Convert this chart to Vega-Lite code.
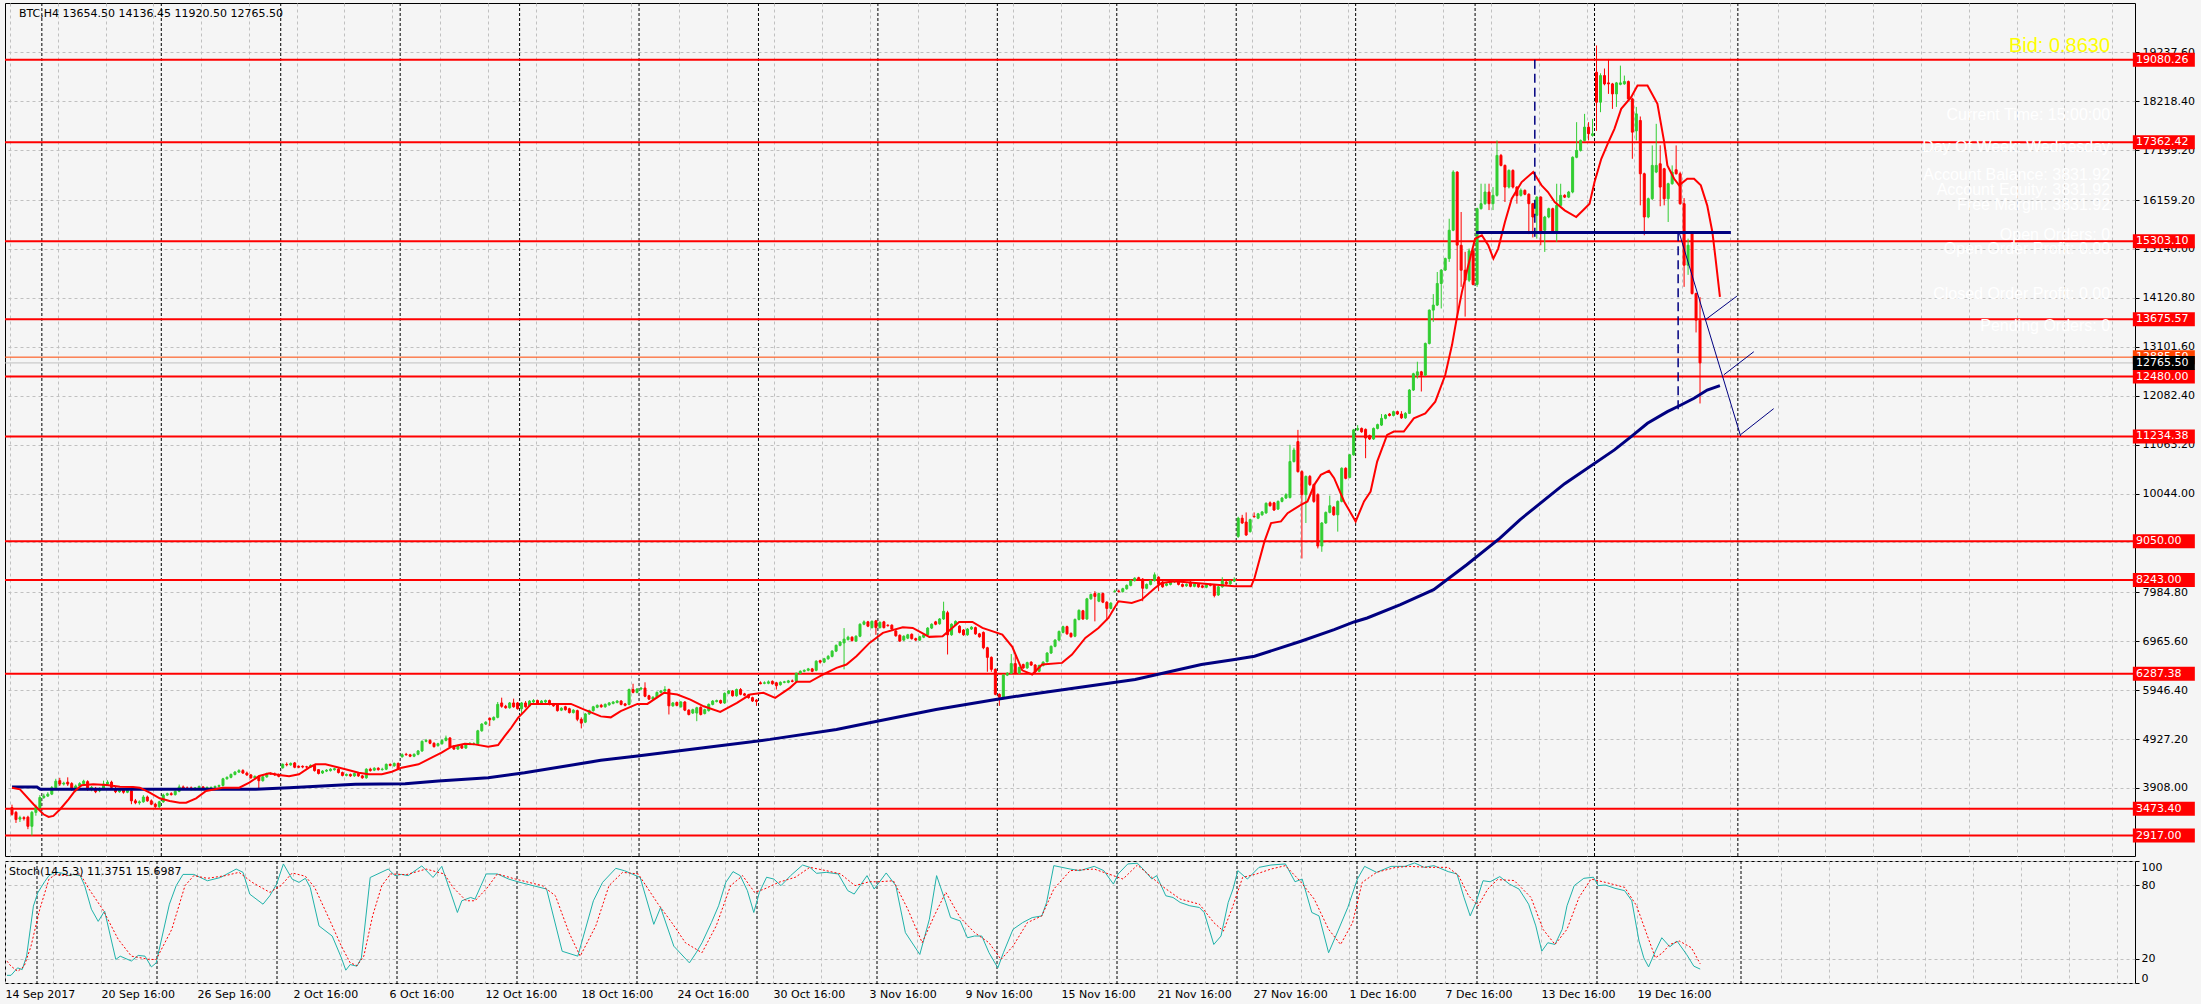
{
"$schema": "https://vega.github.io/schema/vega-lite/v6.json",
"background": "#F5F5F5",
"padding": {"left": 3, "top": 2, "right": 12, "bottom": 16},
"spacing": 3,
"config": {
 "view": {"stroke": "#000000", "strokeWidth": 1},
 "axis": {"labelFont": "DejaVu Sans", "labelFontSize": 11, "labelColor": "#000000", "gridColor": "#C0C0C0", "gridDash": [3, 3], "gridWidth": 1, "tickColor": "#000000", "domain": false},
 "text": {"font": "DejaVu Sans"}
},
"datasets": {
 "candles": [
{"i":0,"o":3499,"h":3560,"l":3330,"c":3360},{"i":1,"o":3400,"h":3430,"l":3180,"c":3250},{"i":2,"o":3260,"h":3330,"l":3200,"c":3290},{"i":3,"o":3290,"h":3320,"l":3230,"c":3270},{"i":4,"o":3300,"h":3330,"l":3050,"c":3110},{"i":5,"o":3110,"h":3430,"l":2917,"c":3400},{"i":6,"o":3400,"h":3560,"l":3330,"c":3500},{"i":7,"o":3500,"h":3760,"l":3480,"c":3710},{"i":8,"o":3710,"h":3790,"l":3680,"c":3740},{"i":9,"o":3740,"h":3820,"l":3720,"c":3780},
{"i":10,"o":3780,"h":3950,"l":3760,"c":3915},{"i":11,"o":3915,"h":4100,"l":3900,"c":4050},{"i":12,"o":4060,"h":4120,"l":3950,"c":3990},{"i":13,"o":3990,"h":4040,"l":3960,"c":4010},{"i":14,"o":4030,"h":4130,"l":3950,"c":3990},{"i":15,"o":4000,"h":4030,"l":3850,"c":3880},{"i":16,"o":3880,"h":3980,"l":3820,"c":3950},{"i":17,"o":3950,"h":4030,"l":3930,"c":4000},{"i":18,"o":4000,"h":4080,"l":3980,"c":4050},{"i":19,"o":4040,"h":4070,"l":3850,"c":3880},
{"i":20,"o":3880,"h":3950,"l":3840,"c":3920},{"i":21,"o":3900,"h":3930,"l":3800,"c":3830},{"i":22,"o":3850,"h":3920,"l":3820,"c":3900},{"i":23,"o":3900,"h":4060,"l":3880,"c":3990},{"i":24,"o":3990,"h":4070,"l":3970,"c":4030},{"i":25,"o":4030,"h":4060,"l":3900,"c":3920},{"i":26,"o":3900,"h":3930,"l":3800,"c":3830},{"i":27,"o":3830,"h":3900,"l":3810,"c":3870},{"i":28,"o":3870,"h":3900,"l":3790,"c":3820},{"i":29,"o":3820,"h":3880,"l":3800,"c":3860},
{"i":30,"o":3850,"h":3870,"l":3570,"c":3640},{"i":31,"o":3640,"h":3680,"l":3570,"c":3600},{"i":32,"o":3600,"h":3650,"l":3560,"c":3620},{"i":33,"o":3620,"h":3760,"l":3600,"c":3720},{"i":34,"o":3720,"h":3750,"l":3620,"c":3640},{"i":35,"o":3640,"h":3670,"l":3550,"c":3570},{"i":36,"o":3570,"h":3600,"l":3480,"c":3520},{"i":37,"o":3520,"h":3640,"l":3490,"c":3620},{"i":38,"o":3620,"h":3790,"l":3600,"c":3760},{"i":39,"o":3760,"h":3810,"l":3740,"c":3790},
{"i":40,"o":3790,"h":3820,"l":3750,"c":3770},{"i":41,"o":3770,"h":3860,"l":3750,"c":3840},{"i":42,"o":3840,"h":3980,"l":3820,"c":3930},{"i":43,"o":3930,"h":3960,"l":3880,"c":3900},{"i":44,"o":3910,"h":3940,"l":3870,"c":3890},{"i":45,"o":3910,"h":3940,"l":3860,"c":3880},{"i":46,"o":3880,"h":3930,"l":3860,"c":3910},{"i":47,"o":3910,"h":3960,"l":3890,"c":3940},{"i":48,"o":3930,"h":3950,"l":3870,"c":3890},{"i":49,"o":3890,"h":3940,"l":3870,"c":3920},
{"i":50,"o":3910,"h":3940,"l":3890,"c":3920},{"i":51,"o":3920,"h":3960,"l":3900,"c":3940},{"i":52,"o":3940,"h":3980,"l":3920,"c":3960},{"i":53,"o":3960,"h":4120,"l":3940,"c":4100},{"i":54,"o":4100,"h":4150,"l":4080,"c":4130},{"i":55,"o":4130,"h":4210,"l":4110,"c":4190},{"i":56,"o":4190,"h":4260,"l":4170,"c":4240},{"i":57,"o":4240,"h":4300,"l":4220,"c":4270},{"i":58,"o":4270,"h":4300,"l":4200,"c":4220},{"i":59,"o":4220,"h":4250,"l":4160,"c":4180},
{"i":60,"o":4180,"h":4200,"l":4100,"c":4120},{"i":61,"o":4120,"h":4170,"l":4100,"c":4150},{"i":62,"o":4150,"h":4170,"l":3900,"c":4060},{"i":63,"o":4060,"h":4160,"l":4040,"c":4140},{"i":64,"o":4140,"h":4230,"l":4120,"c":4210},{"i":65,"o":4210,"h":4240,"l":4180,"c":4200},{"i":66,"o":4200,"h":4230,"l":4160,"c":4180},{"i":67,"o":4190,"h":4210,"l":4130,"c":4150},{"i":68,"o":4330,"h":4420,"l":4310,"c":4400},{"i":69,"o":4400,"h":4440,"l":4360,"c":4390},
{"i":70,"o":4390,"h":4440,"l":4370,"c":4420},{"i":71,"o":4430,"h":4450,"l":4320,"c":4340},{"i":72,"o":4360,"h":4380,"l":4320,"c":4340},{"i":73,"o":4360,"h":4380,"l":4320,"c":4345},{"i":74,"o":4350,"h":4370,"l":4320,"c":4345},{"i":75,"o":4345,"h":4400,"l":4330,"c":4380},{"i":76,"o":4380,"h":4400,"l":4250,"c":4270},{"i":77,"o":4290,"h":4300,"l":4190,"c":4210},{"i":78,"o":4220,"h":4280,"l":4200,"c":4260},{"i":79,"o":4260,"h":4300,"l":4240,"c":4280},
{"i":80,"o":4270,"h":4320,"l":4250,"c":4300},{"i":81,"o":4290,"h":4330,"l":4270,"c":4310},{"i":82,"o":4300,"h":4320,"l":4210,"c":4230},{"i":83,"o":4230,"h":4250,"l":4150,"c":4170},{"i":84,"o":4170,"h":4210,"l":4150,"c":4190},{"i":85,"o":4190,"h":4210,"l":4140,"c":4160},{"i":86,"o":4160,"h":4230,"l":4140,"c":4210},{"i":87,"o":4210,"h":4230,"l":4140,"c":4160},{"i":88,"o":4160,"h":4180,"l":4100,"c":4120},{"i":89,"o":4120,"h":4320,"l":4100,"c":4300},
{"i":90,"o":4300,"h":4330,"l":4250,"c":4270},{"i":91,"o":4280,"h":4340,"l":4260,"c":4320},{"i":92,"o":4320,"h":4340,"l":4270,"c":4290},{"i":93,"o":4290,"h":4330,"l":4270,"c":4300},{"i":94,"o":4300,"h":4420,"l":4280,"c":4400},{"i":95,"o":4400,"h":4420,"l":4360,"c":4380},{"i":96,"o":4370,"h":4440,"l":4350,"c":4420},{"i":97,"o":4420,"h":4440,"l":4280,"c":4300},{"i":98,"o":4560,"h":4630,"l":4540,"c":4600},{"i":99,"o":4610,"h":4640,"l":4580,"c":4600},
{"i":100,"o":4600,"h":4620,"l":4550,"c":4570},{"i":101,"o":4570,"h":4630,"l":4550,"c":4610},{"i":102,"o":4610,"h":4700,"l":4590,"c":4680},{"i":103,"o":4680,"h":4900,"l":4660,"c":4880},{"i":104,"o":4880,"h":4930,"l":4860,"c":4900},{"i":105,"o":4900,"h":4920,"l":4820,"c":4840},{"i":106,"o":4840,"h":4860,"l":4750,"c":4770},{"i":107,"o":4790,"h":4850,"l":4770,"c":4830},{"i":108,"o":4830,"h":4920,"l":4810,"c":4900},{"i":109,"o":4900,"h":5000,"l":4880,"c":4950},
{"i":110,"o":4950,"h":4970,"l":4740,"c":4760},{"i":111,"o":4780,"h":4800,"l":4700,"c":4720},{"i":112,"o":4720,"h":4810,"l":4700,"c":4790},{"i":113,"o":4790,"h":4810,"l":4720,"c":4740},{"i":114,"o":4740,"h":4840,"l":4720,"c":4820},{"i":115,"o":4820,"h":4860,"l":4800,"c":4840},{"i":116,"o":4830,"h":4860,"l":4800,"c":4830},{"i":117,"o":4830,"h":5120,"l":4810,"c":5100},{"i":118,"o":5100,"h":5260,"l":5080,"c":5240},{"i":119,"o":5240,"h":5300,"l":5220,"c":5280},
{"i":120,"o":5360,"h":5380,"l":5200,"c":5330},{"i":121,"o":5330,"h":5400,"l":5310,"c":5380},{"i":122,"o":5380,"h":5700,"l":5360,"c":5650},{"i":123,"o":5680,"h":5790,"l":5580,"c":5610},{"i":124,"o":5610,"h":5640,"l":5560,"c":5580},{"i":125,"o":5580,"h":5700,"l":5560,"c":5680},{"i":126,"o":5680,"h":5770,"l":5580,"c":5600},{"i":127,"o":5680,"h":5700,"l":5540,"c":5560},{"i":128,"o":5560,"h":5700,"l":5450,"c":5680},{"i":129,"o":5680,"h":5720,"l":5580,"c":5600},
{"i":130,"o":5620,"h":5740,"l":5600,"c":5720},{"i":131,"o":5700,"h":5760,"l":5680,"c":5730},{"i":132,"o":5730,"h":5750,"l":5660,"c":5680},{"i":133,"o":5680,"h":5740,"l":5660,"c":5720},{"i":134,"o":5700,"h":5750,"l":5680,"c":5730},{"i":135,"o":5730,"h":5750,"l":5630,"c":5650},{"i":136,"o":5650,"h":5680,"l":5600,"c":5620},{"i":137,"o":5640,"h":5660,"l":5500,"c":5520},{"i":138,"o":5530,"h":5590,"l":5510,"c":5570},{"i":139,"o":5600,"h":5620,"l":5520,"c":5540},
{"i":140,"o":5560,"h":5580,"l":5460,"c":5480},{"i":141,"o":5480,"h":5550,"l":5460,"c":5530},{"i":142,"o":5520,"h":5540,"l":5300,"c":5340},{"i":143,"o":5340,"h":5380,"l":5150,"c":5260},{"i":144,"o":5280,"h":5470,"l":5260,"c":5450},{"i":145,"o":5450,"h":5540,"l":5430,"c":5520},{"i":146,"o":5520,"h":5620,"l":5500,"c":5600},{"i":147,"o":5590,"h":5650,"l":5570,"c":5630},{"i":148,"o":5630,"h":5660,"l":5580,"c":5600},{"i":149,"o":5600,"h":5670,"l":5580,"c":5650},
{"i":150,"o":5640,"h":5700,"l":5620,"c":5680},{"i":151,"o":5670,"h":5720,"l":5650,"c":5700},{"i":152,"o":5690,"h":5740,"l":5670,"c":5720},{"i":153,"o":5720,"h":5740,"l":5630,"c":5650},{"i":154,"o":5660,"h":5680,"l":5610,"c":5630},{"i":155,"o":5650,"h":5980,"l":5630,"c":5960},{"i":156,"o":5960,"h":6080,"l":5880,"c":5900},{"i":157,"o":5900,"h":5990,"l":5880,"c":5970},{"i":158,"o":5970,"h":6010,"l":5950,"c":5990},{"i":159,"o":5990,"h":6110,"l":5800,"c":5820},
{"i":160,"o":5830,"h":5850,"l":5740,"c":5760},{"i":161,"o":5760,"h":5820,"l":5740,"c":5800},{"i":162,"o":5800,"h":5920,"l":5780,"c":5900},{"i":163,"o":5900,"h":5950,"l":5880,"c":5930},{"i":164,"o":5930,"h":6030,"l":5910,"c":5960},{"i":165,"o":5960,"h":5980,"l":5440,"c":5620},{"i":166,"o":5620,"h":5700,"l":5600,"c":5680},{"i":167,"o":5690,"h":5710,"l":5610,"c":5630},{"i":168,"o":5600,"h":5720,"l":5580,"c":5700},{"i":169,"o":5700,"h":5720,"l":5510,"c":5530},
{"i":170,"o":5530,"h":5550,"l":5420,"c":5440},{"i":171,"o":5470,"h":5560,"l":5450,"c":5540},{"i":172,"o":5470,"h":5600,"l":5300,"c":5580},{"i":173,"o":5590,"h":5610,"l":5420,"c":5440},{"i":174,"o":5460,"h":5560,"l":5440,"c":5540},{"i":175,"o":5520,"h":5670,"l":5500,"c":5650},{"i":176,"o":5650,"h":5740,"l":5630,"c":5720},{"i":177,"o":5710,"h":5750,"l":5690,"c":5730},{"i":178,"o":5730,"h":5750,"l":5660,"c":5680},{"i":179,"o":5680,"h":5900,"l":5660,"c":5880},
{"i":180,"o":5880,"h":5950,"l":5860,"c":5930},{"i":181,"o":5930,"h":5950,"l":5810,"c":5830},{"i":182,"o":5830,"h":5980,"l":5810,"c":5960},{"i":183,"o":5960,"h":5990,"l":5840,"c":5860},{"i":184,"o":5870,"h":5890,"l":5820,"c":5840},{"i":185,"o":5850,"h":5870,"l":5770,"c":5790},{"i":186,"o":5790,"h":5810,"l":5700,"c":5720},{"i":187,"o":5740,"h":5760,"l":5620,"c":5710},{"i":188,"o":6100,"h":6130,"l":6070,"c":6080},{"i":189,"o":6090,"h":6130,"l":6070,"c":6100},
{"i":190,"o":6090,"h":6150,"l":6070,"c":6120},{"i":191,"o":6130,"h":6150,"l":6060,"c":6080},{"i":192,"o":6100,"h":6120,"l":5960,"c":6040},{"i":193,"o":6060,"h":6130,"l":6040,"c":6110},{"i":194,"o":6110,"h":6140,"l":6090,"c":6120},{"i":195,"o":6110,"h":6160,"l":6090,"c":6140},{"i":196,"o":6140,"h":6170,"l":6110,"c":6130},{"i":197,"o":6130,"h":6310,"l":6110,"c":6300},{"i":198,"o":6300,"h":6360,"l":6280,"c":6340},{"i":199,"o":6340,"h":6380,"l":6320,"c":6360},
{"i":200,"o":6360,"h":6410,"l":6340,"c":6390},{"i":201,"o":6390,"h":6410,"l":6320,"c":6340},{"i":202,"o":6360,"h":6570,"l":6340,"c":6550},{"i":203,"o":6560,"h":6580,"l":6500,"c":6530},{"i":204,"o":6530,"h":6620,"l":6510,"c":6600},{"i":205,"o":6600,"h":6680,"l":6580,"c":6650},{"i":206,"o":6650,"h":6780,"l":6630,"c":6760},{"i":207,"o":6760,"h":6900,"l":6740,"c":6880},{"i":208,"o":6880,"h":6970,"l":6860,"c":6950},{"i":209,"o":6930,"h":7240,"l":6380,"c":7010},
{"i":210,"o":7000,"h":7080,"l":6980,"c":7050},{"i":211,"o":7050,"h":7070,"l":6960,"c":6980},{"i":212,"o":6970,"h":7090,"l":6950,"c":7070},{"i":213,"o":7070,"h":7340,"l":7050,"c":7320},{"i":214,"o":7320,"h":7400,"l":7300,"c":7370},{"i":215,"o":7370,"h":7390,"l":7260,"c":7280},{"i":216,"o":7250,"h":7400,"l":7230,"c":7380},{"i":217,"o":7390,"h":7410,"l":7100,"c":7250},{"i":218,"o":7250,"h":7380,"l":7230,"c":7360},{"i":219,"o":7370,"h":7390,"l":7230,"c":7250},
{"i":220,"o":7300,"h":7320,"l":7270,"c":7290},{"i":221,"o":7300,"h":7320,"l":7200,"c":7220},{"i":222,"o":7180,"h":7200,"l":7060,"c":7080},{"i":223,"o":7090,"h":7110,"l":6950,"c":6970},{"i":224,"o":6990,"h":7090,"l":6970,"c":7070},{"i":225,"o":7030,"h":7120,"l":7010,"c":7100},{"i":226,"o":7110,"h":7130,"l":7000,"c":7020},{"i":227,"o":7020,"h":7040,"l":6970,"c":6990},{"i":228,"o":6990,"h":7080,"l":6970,"c":7060},{"i":229,"o":7050,"h":7120,"l":7030,"c":7100},
{"i":230,"o":7100,"h":7260,"l":7080,"c":7240},{"i":231,"o":7240,"h":7340,"l":7220,"c":7320},{"i":232,"o":7370,"h":7390,"l":7300,"c":7320},{"i":233,"o":7330,"h":7450,"l":7310,"c":7430},{"i":234,"o":7430,"h":7790,"l":7410,"c":7590},{"i":235,"o":7560,"h":7600,"l":6690,"c":7100},{"i":236,"o":7100,"h":7340,"l":7080,"c":7320},{"i":237,"o":7310,"h":7400,"l":7290,"c":7380},{"i":238,"o":7280,"h":7300,"l":7130,"c":7150},{"i":239,"o":7200,"h":7220,"l":7080,"c":7100},
{"i":240,"o":7100,"h":7240,"l":7080,"c":7220},{"i":241,"o":7220,"h":7280,"l":7200,"c":7260},{"i":242,"o":7250,"h":7270,"l":7100,"c":7120},{"i":243,"o":7120,"h":7140,"l":7040,"c":7060},{"i":244,"o":7150,"h":7170,"l":6800,"c":6830},{"i":245,"o":6830,"h":6850,"l":6330,"c":6630},{"i":246,"o":6630,"h":6650,"l":6330,"c":6380},{"i":247,"o":6380,"h":6400,"l":5840,"c":5860},{"i":248,"o":5860,"h":5880,"l":5620,"c":5800},{"i":249,"o":5800,"h":6280,"l":5780,"c":6260},
{"i":250,"o":6260,"h":6320,"l":6240,"c":6300},{"i":251,"o":6300,"h":6700,"l":6280,"c":6500},{"i":252,"o":6500,"h":6680,"l":6280,"c":6300},{"i":253,"o":6300,"h":6440,"l":6280,"c":6420},{"i":254,"o":6480,"h":6500,"l":6390,"c":6410},{"i":255,"o":6410,"h":6540,"l":6390,"c":6520},{"i":256,"o":6530,"h":6550,"l":6450,"c":6470},{"i":257,"o":6470,"h":6490,"l":6300,"c":6330},{"i":258,"o":6340,"h":6480,"l":6320,"c":6460},{"i":259,"o":6460,"h":6550,"l":6440,"c":6530},
{"i":260,"o":6540,"h":6740,"l":6520,"c":6720},{"i":261,"o":6720,"h":6880,"l":6700,"c":6860},{"i":262,"o":6860,"h":7010,"l":6840,"c":6990},{"i":263,"o":6990,"h":7190,"l":6970,"c":7170},{"i":264,"o":7150,"h":7290,"l":7130,"c":7270},{"i":265,"o":7270,"h":7290,"l":7100,"c":7120},{"i":266,"o":7130,"h":7150,"l":7040,"c":7060},{"i":267,"o":7070,"h":7440,"l":7050,"c":7420},{"i":268,"o":7420,"h":7630,"l":7400,"c":7610},{"i":269,"o":7600,"h":7620,"l":7410,"c":7430},
{"i":270,"o":7430,"h":7870,"l":7410,"c":7850},{"i":271,"o":7850,"h":7960,"l":7830,"c":7940},{"i":272,"o":7960,"h":8010,"l":7380,"c":7900},{"i":273,"o":7800,"h":7980,"l":7780,"c":7960},{"i":274,"o":7960,"h":7980,"l":7760,"c":7780},{"i":275,"o":7780,"h":7800,"l":7400,"c":7650},{"i":276,"o":7650,"h":7780,"l":7630,"c":7760},{"i":277,"o":8000,"h":8040,"l":7980,"c":8010},{"i":278,"o":8010,"h":8040,"l":7980,"c":8000},{"i":279,"o":8000,"h":8080,"l":7980,"c":8060},
{"i":280,"o":8060,"h":8150,"l":8040,"c":8130},{"i":281,"o":8130,"h":8250,"l":8110,"c":8230},{"i":282,"o":8230,"h":8300,"l":8210,"c":8280},{"i":283,"o":8290,"h":8310,"l":8240,"c":8260},{"i":284,"o":8260,"h":8280,"l":7800,"c":8070},{"i":285,"o":8070,"h":8170,"l":8050,"c":8150},{"i":286,"o":8150,"h":8250,"l":8130,"c":8230},{"i":287,"o":8230,"h":8400,"l":8210,"c":8350},{"i":288,"o":8300,"h":8320,"l":8010,"c":8150},{"i":289,"o":8200,"h":8220,"l":8080,"c":8100},
{"i":290,"o":8130,"h":8180,"l":8110,"c":8160},{"i":291,"o":8150,"h":8220,"l":8130,"c":8200},{"i":292,"o":8200,"h":8240,"l":8180,"c":8220},{"i":293,"o":8220,"h":8240,"l":8130,"c":8150},{"i":294,"o":8150,"h":8170,"l":8090,"c":8110},{"i":295,"o":8120,"h":8170,"l":8100,"c":8150},{"i":296,"o":8200,"h":8220,"l":8090,"c":8110},{"i":297,"o":8110,"h":8180,"l":8090,"c":8160},{"i":298,"o":8160,"h":8180,"l":8080,"c":8100},{"i":299,"o":8120,"h":8140,"l":8070,"c":8090},
{"i":300,"o":8090,"h":8170,"l":8070,"c":8150},{"i":301,"o":8150,"h":8170,"l":8110,"c":8130},{"i":302,"o":8130,"h":8150,"l":7880,"c":7920},{"i":303,"o":7930,"h":8120,"l":7910,"c":8100},{"i":304,"o":8100,"h":8300,"l":8080,"c":8220},{"i":305,"o":8200,"h":8220,"l":8140,"c":8160},{"i":306,"o":8160,"h":8240,"l":8140,"c":8220},{"i":307,"o":8220,"h":8300,"l":8200,"c":8250},{"i":308,"o":9150,"h":9560,"l":9120,"c":9530},{"i":309,"o":9530,"h":9600,"l":9410,"c":9430},
{"i":310,"o":9450,"h":9650,"l":9160,"c":9180},{"i":311,"o":9250,"h":9520,"l":9230,"c":9500},{"i":312,"o":9570,"h":9650,"l":9540,"c":9560},{"i":313,"o":9530,"h":9640,"l":9510,"c":9620},{"i":314,"o":9600,"h":9680,"l":9580,"c":9660},{"i":315,"o":9640,"h":9860,"l":9620,"c":9840},{"i":316,"o":9850,"h":9880,"l":9770,"c":9790},{"i":317,"o":9850,"h":9870,"l":9680,"c":9700},{"i":318,"o":9720,"h":9900,"l":9700,"c":9880},{"i":319,"o":9880,"h":9970,"l":9860,"c":9950},
{"i":320,"o":9950,"h":10050,"l":9930,"c":10020},{"i":321,"o":9960,"h":11060,"l":9940,"c":10710},{"i":322,"o":10710,"h":11000,"l":10690,"c":10950},{"i":323,"o":11126,"h":11370,"l":10480,"c":10500},{"i":324,"o":10500,"h":10530,"l":8690,"c":10020},{"i":325,"o":10020,"h":10420,"l":9430,"c":10400},{"i":326,"o":10400,"h":10430,"l":10200,"c":10230},{"i":327,"o":10230,"h":10250,"l":9850,"c":9880},{"i":328,"o":10020,"h":10050,"l":8900,"c":8950},{"i":329,"o":8950,"h":9450,"l":8830,"c":9430},
{"i":330,"o":9430,"h":9670,"l":9410,"c":9650},{"i":331,"o":9650,"h":10000,"l":9630,"c":9790},{"i":332,"o":9760,"h":9780,"l":9580,"c":9600},{"i":333,"o":9600,"h":9900,"l":9250,"c":9880},{"i":334,"o":9880,"h":10590,"l":9860,"c":10570},{"i":335,"o":10570,"h":10590,"l":10340,"c":10360},{"i":336,"o":10380,"h":10870,"l":10360,"c":10850},{"i":337,"o":10850,"h":11390,"l":10830,"c":11370},{"i":338,"o":11370,"h":11470,"l":11350,"c":11400},{"i":339,"o":11400,"h":11420,"l":11310,"c":11330},
{"i":340,"o":11380,"h":11400,"l":10780,"c":11200},{"i":341,"o":11250,"h":11270,"l":11160,"c":11180},{"i":342,"o":11180,"h":11420,"l":11160,"c":11400},{"i":343,"o":11400,"h":11500,"l":11380,"c":11480},{"i":344,"o":11470,"h":11700,"l":11450,"c":11610},{"i":345,"o":11610,"h":11700,"l":11590,"c":11680},{"i":346,"o":11700,"h":11720,"l":11650,"c":11670},{"i":347,"o":11670,"h":11770,"l":11650,"c":11750},{"i":348,"o":11750,"h":11770,"l":11680,"c":11700},{"i":349,"o":11700,"h":11760,"l":11600,"c":11620},
{"i":350,"o":11620,"h":11740,"l":11600,"c":11714},{"i":351,"o":11714,"h":12220,"l":11700,"c":12200},{"i":352,"o":12200,"h":12560,"l":12180,"c":12540},{"i":353,"o":12510,"h":12790,"l":12440,"c":12580},{"i":354,"o":12580,"h":12600,"l":12170,"c":12510},{"i":355,"o":12510,"h":13190,"l":12490,"c":13170},{"i":356,"o":13170,"h":13880,"l":13150,"c":13865},{"i":357,"o":13865,"h":14200,"l":13620,"c":13970},{"i":358,"o":13970,"h":14660,"l":13950,"c":14420},{"i":359,"o":14420,"h":14720,"l":13900,"c":14700},
{"i":360,"o":14700,"h":14960,"l":14680,"c":14940},{"i":361,"o":14940,"h":15770,"l":14870,"c":15530},{"i":362,"o":15530,"h":16780,"l":15510,"c":16742},{"i":363,"o":16742,"h":16760,"l":13700,"c":15220},{"i":364,"o":15217,"h":15910,"l":14350,"c":14697},{"i":365,"o":14697,"h":15080,"l":13730,"c":14489},{"i":366,"o":14489,"h":15150,"l":14450,"c":15100},{"i":367,"o":15100,"h":15150,"l":14380,"c":14400},{"i":368,"o":14400,"h":16000,"l":14350,"c":15980},{"i":369,"o":15980,"h":16500,"l":15960,"c":16083},
{"i":370,"o":16083,"h":16500,"l":16060,"c":16326},{"i":371,"o":16326,"h":16500,"l":15950,"c":16083},{"i":372,"o":16083,"h":16430,"l":15950,"c":16257},{"i":373,"o":16257,"h":17400,"l":16230,"c":17089},{"i":374,"o":17089,"h":17120,"l":16860,"c":16881},{"i":375,"o":16881,"h":16900,"l":16118,"c":16430},{"i":376,"o":16430,"h":16800,"l":16400,"c":16776},{"i":377,"o":16776,"h":16800,"l":16400,"c":16430},{"i":378,"o":16430,"h":16450,"l":16083,"c":16250},{"i":379,"o":16257,"h":16400,"l":16230,"c":16361},
{"i":380,"o":16361,"h":16380,"l":16260,"c":16280},{"i":381,"o":16280,"h":16300,"l":15450,"c":16083},{"i":382,"o":16083,"h":16100,"l":15380,"c":15806},{"i":383,"o":15841,"h":16240,"l":15355,"c":16220},{"i":384,"o":16220,"h":16240,"l":15217,"c":15494},{"i":385,"o":15529,"h":15830,"l":15078,"c":15806},{"i":386,"o":15806,"h":16000,"l":15780,"c":15979},{"i":387,"o":15979,"h":16000,"l":15470,"c":15494},{"i":388,"o":15494,"h":16499,"l":15286,"c":16049},{"i":389,"o":16049,"h":16499,"l":16030,"c":16257},
{"i":390,"o":16257,"h":16280,"l":16200,"c":16220},{"i":391,"o":16220,"h":16350,"l":16200,"c":16326},{"i":392,"o":16326,"h":17070,"l":16300,"c":17050},{"i":393,"o":17050,"h":17782,"l":17030,"c":17193},{"i":394,"o":17193,"h":17420,"l":17170,"c":17401},{"i":395,"o":17401,"h":17955,"l":17380,"c":17678},{"i":396,"o":17678,"h":17782,"l":17401,"c":17540},{"i":397,"o":17505,"h":17850,"l":17480,"c":17540},{"i":398,"o":18822,"h":19380,"l":17600,"c":18198},{"i":399,"o":18198,"h":18800,"l":17990,"c":18753},
{"i":400,"o":18753,"h":18900,"l":18550,"c":18579},{"i":401,"o":18600,"h":19099,"l":18371,"c":18579},{"i":402,"o":18579,"h":18600,"l":18059,"c":18371},{"i":403,"o":18371,"h":18620,"l":18100,"c":18600},{"i":404,"o":18570,"h":18960,"l":18550,"c":18600},{"i":405,"o":18580,"h":18753,"l":18560,"c":18628},{"i":406,"o":18628,"h":18650,"l":18240,"c":18267},{"i":407,"o":18267,"h":18290,"l":17019,"c":17574},{"i":408,"o":17600,"h":18100,"l":17400,"c":17955},{"i":409,"o":17817,"h":17900,"l":16049,"c":16707},
{"i":410,"o":16707,"h":16730,"l":15425,"c":15806},{"i":411,"o":15806,"h":16210,"l":15780,"c":16187},{"i":412,"o":16187,"h":17297,"l":16160,"c":16881},{"i":413,"o":16742,"h":17747,"l":16720,"c":16881},{"i":414,"o":16915,"h":17300,"l":16030,"c":16430},{"i":415,"o":16811,"h":16830,"l":16049,"c":16187},{"i":416,"o":16187,"h":16520,"l":15702,"c":16499},{"i":417,"o":16499,"h":16881,"l":16480,"c":16742},{"i":418,"o":16790,"h":17297,"l":16690,"c":16707},{"i":419,"o":16707,"h":16750,"l":16060,"c":16083},
{"i":420,"o":16083,"h":16200,"l":14350,"c":14801},{"i":421,"o":14801,"h":15355,"l":14600,"c":15217},{"i":422,"o":15460,"h":15494,"l":14190,"c":14211},{"i":423,"o":14211,"h":14230,"l":13400,"c":13657},{"i":424,"o":13654.5,"h":14136.45,"l":11920.5,"c":12765.5}
 ],
 "maFast": [
{"i":0,"p":3915},{"i":2,"p":3880},{"i":5.4,"p":3570},{"i":7.9,"p":3360},{"i":9.2,"p":3305},{"i":10.4,"p":3326},{"i":12.1,"p":3465},{"i":14.2,"p":3672},{"i":15.8,"p":3846},{"i":17.5,"p":3964},{"i":20.4,"p":3985},{"i":23.75,"p":3971},{"i":27.1,"p":3936},{"i":30.4,"p":3929},{"i":32.1,"p":3915},{"i":34.6,"p":3811},{"i":37.1,"p":3693},{"i":39.6,"p":3638},{"i":42.1,"p":3603},{"i":43.75,"p":3603},{"i":46.25,"p":3693},{"i":48.75,"p":3846},{"i":52.9,"p":3915},{"i":57.1,"p":3915},{"i":59.6,"p":4019},{"i":62.1,"p":4158},{"i":64.6,"p":4213},{"i":67.1,"p":4179},{"i":69.6,"p":4151},{"i":72.1,"p":4193},{"i":74.6,"p":4331},{"i":76.25,"p":4401},{"i":78.75,"p":4401},{"i":81.25,"p":4352},{"i":83.75,"p":4297},{"i":87.1,"p":4227},{"i":89.6,"p":4193},{"i":92.9,"p":4193},{"i":95.4,"p":4248},{"i":97.9,"p":4331},{"i":102.1,"p":4401},{"i":105.4,"p":4539},{"i":107.9,"p":4643},{"i":110.4,"p":4768},{"i":113.75,"p":4831},{"i":116.25,"p":4817},{"i":119.6,"p":4768},{"i":122.1,"p":4803},{"i":123.75,"p":4990},{"i":125.4,"p":5163},{"i":127.1,"p":5370},{"i":128.75,"p":5510},{"i":130.4,"p":5660},{"i":135.4,"p":5660},{"i":140.4,"p":5660},{"i":143.75,"p":5540},{"i":147.9,"p":5400},{"i":150.4,"p":5380},{"i":152.9,"p":5510},{"i":157.1,"p":5660},{"i":159.6,"p":5660},{"i":163.75,"p":5890},{"i":167.1,"p":5855},{"i":170.4,"p":5750},{"i":173.75,"p":5610},{"i":177.9,"p":5495},{"i":182.1,"p":5680},{"i":185.4,"p":5855},{"i":188.75,"p":5890},{"i":191.7,"p":5785},{"i":195.4,"p":5995},{"i":197.1,"p":6120},{"i":200.4,"p":6120},{"i":203.75,"p":6273},{"i":207.1,"p":6411},{"i":209.6,"p":6481},{"i":212.1,"p":6654},{"i":215.4,"p":6931},{"i":218.75,"p":7140},{"i":223.75,"p":7258},{"i":226.25,"p":7244},{"i":230.4,"p":7057},{"i":233.75,"p":7071},{"i":237.9,"p":7369},{"i":241.25,"p":7369},{"i":243.75,"p":7244},{"i":248.75,"p":7105},{"i":251.25,"p":6850},{"i":253.75,"p":6360},{"i":256.25,"p":6272},{"i":258.75,"p":6481},{"i":263.75,"p":6515},{"i":266.25,"p":6689},{"i":269.6,"p":7035},{"i":272.9,"p":7243},{"i":275.4,"p":7451},{"i":277.9,"p":7798},{"i":281.25,"p":7763},{"i":283.75,"p":7832},{"i":287.1,"p":8075},{"i":288.75,"p":8179},{"i":292.1,"p":8214},{"i":307.1,"p":8110},{"i":311.25,"p":8110},{"i":312.1,"p":8283},{"i":314.6,"p":9046},{"i":316.25,"p":9427},{"i":318.75,"p":9462},{"i":320.4,"p":9635},{"i":323.75,"p":9808},{"i":325.4,"p":9878},{"i":327.1,"p":10225},{"i":328.75,"p":10433},{"i":330.8,"p":10516},{"i":332.1,"p":10363},{"i":334.6,"p":9878},{"i":337.5,"p":9462},{"i":339.6,"p":9878},{"i":341.25,"p":10086},{"i":342.9,"p":10710},{"i":345.4,"p":11264},{"i":347.1,"p":11334},{"i":349.6,"p":11334},{"i":352.1,"p":11611},{"i":355,"p":11714},{"i":357.5,"p":11957},{"i":360,"p":12513},{"i":361.7,"p":13137},{"i":362.9,"p":13700},{"i":364.2,"p":14246},{"i":365.8,"p":14801},{"i":367.5,"p":15355},{"i":369.2,"p":15425},{"i":370.8,"p":15217},{"i":372.1,"p":14939},{"i":373.3,"p":15147},{"i":375,"p":15702},{"i":376.7,"p":16187},{"i":379.2,"p":16534},{"i":382.1,"p":16742},{"i":384.2,"p":16465},{"i":385.8,"p":16326},{"i":387.5,"p":16118},{"i":390,"p":15944},{"i":392.9,"p":15806},{"i":395,"p":15979},{"i":396.25,"p":16083},{"i":397.5,"p":16534},{"i":399.2,"p":17019},{"i":400.8,"p":17331},{"i":402.5,"p":17643},{"i":404.2,"p":18059},{"i":406.7,"p":18302},{"i":408.3,"p":18545},{"i":410.8,"p":18545},{"i":413.3,"p":18163},{"i":415,"p":17366},{"i":415.8,"p":16881},{"i":417.5,"p":16603},{"i":418.75,"p":16465},{"i":420.8,"p":16603},{"i":422.5,"p":16603},{"i":424.2,"p":16465},{"i":425.8,"p":16049},{"i":427.1,"p":15494},{"i":427.9,"p":14939},{"i":429,"p":14142}
 ],
 "maSlow": [
{"i":0,"p":3929},{"i":6.25,"p":3929},{"i":7.1,"p":3880},{"i":61.25,"p":3880},{"i":69.6,"p":3915},{"i":77.9,"p":3950},{"i":86.25,"p":3985},{"i":98.75,"p":3999},{"i":107.1,"p":4054},{"i":119.6,"p":4123},{"i":128.75,"p":4227},{"i":147.9,"p":4484},{"i":157.1,"p":4574},{"i":173.75,"p":4747},{"i":190.4,"p":4921},{"i":207.1,"p":5129},{"i":215.4,"p":5267},{"i":232.1,"p":5545},{"i":247.1,"p":5753},{"i":253.75,"p":5836},{"i":282.1,"p":6169},{"i":298.75,"p":6481},{"i":307.1,"p":6585},{"i":312.1,"p":6654},{"i":323.75,"p":6966},{"i":332.1,"p":7209},{"i":337.1,"p":7368},{"i":340.4,"p":7451},{"i":348.75,"p":7729},{"i":357.1,"p":8041},{"i":365.4,"p":8561},{"i":373.75,"p":9115},{"i":378.75,"p":9497},{"i":390,"p":10250},{"i":402.5,"p":10953},{"i":406.7,"p":11230},{"i":410.8,"p":11507},{"i":415.8,"p":11750},{"i":419.2,"p":11889},{"i":422.5,"p":12028},{"i":425.8,"p":12201},{"i":429,"p":12291}
 ],
 "stochK": [
{"i":0,"v":6.3},{"i":1,"v":6.3},{"i":2.65,"v":12.4},{"i":3.8,"v":11},{"i":4.9,"v":22},{"i":6.6,"v":63},{"i":7.7,"v":74},{"i":9.4,"v":83},{"i":10.5,"v":88},{"i":12.1,"v":91},{"i":13.8,"v":90},{"i":15.5,"v":88},{"i":16.6,"v":89},{"i":18.3,"v":88},{"i":19.4,"v":80},{"i":21.1,"v":60.5},{"i":22.8,"v":50.5},{"i":24.4,"v":59},{"i":27.2,"v":19.3},{"i":28.3,"v":22},{"i":31.1,"v":18},{"i":32.8,"v":22.6},{"i":34.5,"v":22},{"i":36.1,"v":13.2},{"i":37.3,"v":16.5},{"i":40.6,"v":64.6},{"i":42.3,"v":79.8},{"i":44,"v":89},{"i":46.7,"v":89},{"i":50.1,"v":83.8},{"i":53.4,"v":86.5},{"i":57.3,"v":93.4},{"i":59,"v":90.7},{"i":60.7,"v":72.8},{"i":64,"v":64.6},{"i":65.7,"v":71.5},{"i":67.4,"v":81},{"i":69.1,"v":97.6},{"i":71.3,"v":85.1},{"i":73,"v":82.5},{"i":74.6,"v":85.8},{"i":75.8,"v":78.4},{"i":78,"v":46.8},{"i":81.3,"v":38.5},{"i":83.6,"v":20.6},{"i":84.7,"v":10.5},{"i":85.8,"v":15.1},{"i":87.5,"v":13.8},{"i":88.6,"v":20.6},{"i":90.8,"v":86.5},{"i":95.3,"v":93.4},{"i":97,"v":88},{"i":98.6,"v":89},{"i":100.3,"v":88},{"i":103.7,"v":96},{"i":106.5,"v":86.5},{"i":108.7,"v":95.6},{"i":112.6,"v":57.8},{"i":113.7,"v":67.4},{"i":115.9,"v":70.1},{"i":117,"v":68.8},{"i":119.8,"v":89.4},{"i":122.6,"v":89.4},{"i":125.4,"v":85.2},{"i":127.7,"v":83},{"i":129.9,"v":81.1},{"i":134.9,"v":77},{"i":138.8,"v":26},{"i":142.7,"v":22},{"i":146.6,"v":67.4},{"i":148.9,"v":82.5},{"i":152.2,"v":94},{"i":154.4,"v":92},{"i":158.3,"v":86.5},{"i":161.7,"v":48.1},{"i":163.4,"v":61.9},{"i":166.7,"v":30.2},{"i":170.6,"v":16.5},{"i":172.3,"v":24.8},{"i":173.75,"v":33},{"i":176.1,"v":49.5},{"i":177.9,"v":63.3},{"i":179.7,"v":82.5},{"i":181.5,"v":91.3},{"i":183.3,"v":88},{"i":185.1,"v":75.7},{"i":186.7,"v":57.8},{"i":188.1,"v":74.3},{"i":189.9,"v":86.7},{"i":191.7,"v":85.2},{"i":193.5,"v":79.8},{"i":195.9,"v":88},{"i":198.9,"v":96.7},{"i":200.7,"v":94.8},{"i":202.4,"v":89.9},{"i":204.8,"v":90.7},{"i":207.8,"v":89.4},{"i":210.2,"v":75.7},{"i":211.8,"v":72.9},{"i":215,"v":88},{"i":216.8,"v":77},{"i":219.8,"v":90.2},{"i":222.2,"v":79.8},{"i":224.6,"v":41.3},{"i":228.2,"v":23.4},{"i":230.6,"v":52.3},{"i":232.4,"v":88},{"i":234.7,"v":66},{"i":235.9,"v":53.6},{"i":238.3,"v":50.9},{"i":240.1,"v":37.1},{"i":241.9,"v":38.5},{"i":243.7,"v":38.5},{"i":245.5,"v":24.8},{"i":247.7,"v":12.4},{"i":249.1,"v":24.8},{"i":251.5,"v":44},{"i":253.9,"v":49.5},{"i":256.3,"v":53.6},{"i":258.7,"v":55},{"i":259.9,"v":66},{"i":261.7,"v":96.2},{"i":265.8,"v":93.4},{"i":268.2,"v":92.1},{"i":271.8,"v":95.6},{"i":274.2,"v":92.1},{"i":276.6,"v":81.1},{"i":277.8,"v":89.4},{"i":280.2,"v":97.6},{"i":282.6,"v":98.2},{"i":284.4,"v":92.1},{"i":286.2,"v":85.2},{"i":287.4,"v":88},{"i":289.7,"v":71.5},{"i":291.5,"v":70.1},{"i":293.3,"v":66},{"i":295.7,"v":63.3},{"i":298.1,"v":61.9},{"i":299.3,"v":57.8},{"i":301.7,"v":31.6},{"i":303.5,"v":38.5},{"i":305.3,"v":66},{"i":306.5,"v":77},{"i":307.7,"v":92.1},{"i":310.1,"v":85.2},{"i":313,"v":94.8},{"i":316,"v":96.7},{"i":319.6,"v":97.6},{"i":322,"v":83},{"i":323.8,"v":85.2},{"i":326.2,"v":57.8},{"i":328,"v":55},{"i":330.4,"v":24.8},{"i":332.2,"v":38.5},{"i":335.2,"v":61.9},{"i":337.6,"v":85.2},{"i":339.4,"v":95.6},{"i":342.4,"v":90.7},{"i":346,"v":95.6},{"i":349.5,"v":95.6},{"i":351.9,"v":98.4},{"i":354.3,"v":94.8},{"i":356.7,"v":96.2},{"i":360.3,"v":91.3},{"i":362.5,"v":89.4},{"i":364.25,"v":70.1},{"i":365.8,"v":55},{"i":367.25,"v":66},{"i":369,"v":83.8},{"i":370.8,"v":83},{"i":373.2,"v":87.2},{"i":375.6,"v":81.1},{"i":378,"v":77},{"i":380.4,"v":64.6},{"i":382.2,"v":46.8},{"i":383.7,"v":26.1},{"i":385.2,"v":33},{"i":387,"v":31.6},{"i":388.8,"v":44},{"i":390,"v":63.3},{"i":391.8,"v":79.8},{"i":394.2,"v":85.8},{"i":396.6,"v":86.7},{"i":397.8,"v":79.8},{"i":399.6,"v":80.3},{"i":402,"v":77.6},{"i":404.4,"v":75.7},{"i":406.2,"v":67.4},{"i":408,"v":34.4},{"i":409.2,"v":20.6},{"i":410.4,"v":13.2},{"i":412.1,"v":26.1},{"i":413.7,"v":37.1},{"i":415.7,"v":29.7},{"i":417.5,"v":34.4},{"i":419.9,"v":23.4},{"i":421.7,"v":13.8},{"i":423.3,"v":11.4}
 ],
 "stochD": [
{"i":0,"v":17.9},{"i":1,"v":13.8},{"i":2.7,"v":9.6},{"i":4.3,"v":13.8},{"i":6,"v":30.2},{"i":8.2,"v":60.5},{"i":10.5,"v":85.2},{"i":12.1,"v":88.8},{"i":14.9,"v":88},{"i":18.3,"v":89.4},{"i":20.5,"v":77},{"i":23.9,"v":60.5},{"i":27.8,"v":35.8},{"i":31.1,"v":22},{"i":35.6,"v":19.3},{"i":37.3,"v":19.3},{"i":41.2,"v":44},{"i":44.5,"v":79.8},{"i":46.7,"v":88},{"i":50.1,"v":85.8},{"i":54.6,"v":88},{"i":58,"v":90.7},{"i":61.3,"v":82.5},{"i":65.7,"v":74.3},{"i":68.5,"v":79.8},{"i":71.3,"v":90.2},{"i":74.6,"v":87.5},{"i":76.9,"v":78.4},{"i":80.2,"v":55},{"i":83.6,"v":30.2},{"i":85.8,"v":16.5},{"i":87.5,"v":14.3},{"i":89.2,"v":22},{"i":91.4,"v":55},{"i":93.7,"v":79.8},{"i":95.9,"v":89.4},{"i":99.8,"v":88.8},{"i":104.8,"v":93.4},{"i":109.3,"v":89.4},{"i":111.5,"v":78.4},{"i":114.8,"v":67.4},{"i":117,"v":67.4},{"i":119.8,"v":77},{"i":122.6,"v":89.4},{"i":127.1,"v":85.2},{"i":133.8,"v":79.8},{"i":137.1,"v":71.5},{"i":140.5,"v":41.3},{"i":143.3,"v":22},{"i":147.2,"v":46.8},{"i":150.5,"v":79.8},{"i":153.9,"v":90.7},{"i":157.8,"v":89.4},{"i":162.8,"v":64.6},{"i":166.2,"v":49.5},{"i":169.6,"v":33},{"i":173.75,"v":24.8},{"i":177.3,"v":46.8},{"i":180.9,"v":79.8},{"i":183.9,"v":88},{"i":186.9,"v":74.3},{"i":189.3,"v":77},{"i":192.9,"v":82.5},{"i":197.1,"v":86.7},{"i":200.7,"v":94.8},{"i":204.8,"v":92.1},{"i":208.4,"v":89.4},{"i":212,"v":79.8},{"i":215.6,"v":83},{"i":218,"v":83},{"i":221.6,"v":83.8},{"i":225.2,"v":60.5},{"i":228.8,"v":33},{"i":231.8,"v":55},{"i":234.7,"v":74.3},{"i":238.3,"v":53.6},{"i":241.9,"v":41.3},{"i":245.5,"v":33},{"i":248.5,"v":19.3},{"i":251.5,"v":30.2},{"i":255.1,"v":49.5},{"i":258.7,"v":55},{"i":261.7,"v":77},{"i":265.8,"v":92.1},{"i":271.8,"v":93.4},{"i":276.6,"v":88},{"i":279,"v":85.2},{"i":282.6,"v":96.7},{"i":288.6,"v":79.8},{"i":293.3,"v":68.8},{"i":298.1,"v":64.6},{"i":301.7,"v":49.5},{"i":304.1,"v":42.6},{"i":306.5,"v":63.3},{"i":308.9,"v":86.5},{"i":312.4,"v":89.4},{"i":316,"v":93.4},{"i":319.6,"v":96.2},{"i":323.2,"v":83.8},{"i":326.8,"v":68.8},{"i":330.4,"v":44},{"i":333.4,"v":31.6},{"i":336.4,"v":49.5},{"i":338.8,"v":82.5},{"i":342.4,"v":90.7},{"i":347.2,"v":94.8},{"i":350.7,"v":95.6},{"i":355.5,"v":94.8},{"i":360.3,"v":94.8},{"i":362.9,"v":88},{"i":365.4,"v":71.5},{"i":367.8,"v":63.3},{"i":370.2,"v":77},{"i":372.6,"v":84.7},{"i":376.8,"v":84},{"i":381,"v":70.1},{"i":384,"v":44},{"i":387,"v":31.6},{"i":390,"v":44},{"i":393,"v":70.1},{"i":396,"v":85.2},{"i":399.6,"v":82.5},{"i":404.4,"v":78.4},{"i":407.4,"v":63.3},{"i":409.8,"v":41.3},{"i":412.1,"v":20.6},{"i":413.9,"v":24.8},{"i":415.7,"v":31.6},{"i":418.1,"v":34.4},{"i":421.1,"v":28.9},{"i":423.3,"v":15.7}
 ],
 "levels": [
{"p":19080.26,"t":"19080.26"},{"p":17362.42,"t":"17362.42"},{"p":15303.10,"t":"15303.10"},{"p":13675.57,"t":"13675.57"},{"p":12480.00,"t":"12480.00"},{"p":11234.38,"t":"11234.38"},{"p":9050.00,"t":"9050.00"},{"p":8243.00,"t":"8243.00"},{"p":6287.38,"t":"6287.38"},{"p":3473.40,"t":"3473.40"},{"p":2917.00,"t":"2917.00"}
 ],
 "seps": [
{"i":7.5},{"i":37.5},{"i":67.5},{"i":97.5},{"i":127.5},{"i":157.5},{"i":187.5},{"i":217.5},{"i":247.5},{"i":277.5},{"i":307.5},{"i":337.5},{"i":367.5},{"i":397.5},{"i":433.5}
 ],
 "trend": [
{"g":"h","a":367.75,"b":431.75,"p":15483,"q":15483},
{"g":"v","a":382.5,"b":382.5,"p":19080,"q":15370},
{"g":"v","a":418.5,"b":418.5,"p":15490,"q":11785},
{"g":"t","a":418.75,"b":434.2,"p":15483,"q":11240},
{"g":"t","a":425.4,"b":433.25,"p":13669,"q":14156},
{"g":"t","a":430,"b":437.5,"p":12519,"q":12998},
{"g":"t","a":434.2,"b":442.5,"p":11271,"q":11812}
 ],
 "info": [
{"i":527,"p":17932,"t":"Current Time: 15:00:00"},
{"i":527,"p":17265,"t":"Day Of Week: Wednesday"},
{"i":527,"p":16682,"t":"Account Balance: 3831.92"},
{"i":527,"p":16369,"t":"Account Equity: 3831.92"},
{"i":527,"p":16057,"t":"Free Margin: 3831.92"},
{"i":527,"p":15431,"t":"Open Orders: 0"},
{"i":527,"p":15140,"t":"Open Order Profit: 0.00"},
{"i":527,"p":14202,"t":"Closed Order Profit: 0.00"},
{"i":527,"p":13535,"t":"Pending Orders: 0"}
 ]
},
"vconcat": [
 {
  "width": 2130,
  "height": 853,
  "layer": [
   {
    "data": {"name": "seps"},
    "mark": {"type": "rule", "color": "#000000", "strokeDash": [3, 2], "strokeWidth": 1},
    "encoding": {
     "x": {"field": "i", "type": "quantitative", "scale": {"domain": [-0.5, 532], "nice": false, "zero": false},
       "axis": {"orient": "bottom", "title": null, "labels": false, "ticks": false, "domain": false, "grid": true,
         "values": [-0.5,11.5,23.5,35.5,47.5,59.5,71.5,83.5,95.5,107.5,119.5,131.5,143.5,155.5,167.5,179.5,191.5,203.5,215.5,227.5,239.5,251.5,263.5,275.5,287.5,299.5,311.5,323.5,335.5,347.5,359.5,371.5,383.5,395.5,407.5,419.5,431.5,443.5,455.5,467.5,479.5,491.5,503.5,515.5,527.5]}}
    }
   },
   {
    "data": {"name": "levels"},
    "mark": {"type": "rule", "color": "#FF0000", "strokeWidth": 2},
    "encoding": {
     "y": {"field": "p", "type": "quantitative", "scale": {"domain": [2491, 20265], "nice": false, "zero": false},
       "axis": {"orient": "right", "title": null, "grid": true, "ticks": true, "tickSize": 4, "labelPadding": 3,
         "labelExpr": "datum.value == 9024.8 ? '' : format(datum.value, '.2f')",
         "values": [3908, 4927.2, 5946.4, 6965.6, 7984.8, 9024.8, 10044, 11063.2, 12082.4, 13101.6, 14120.8, 15140, 16159.2, 17199.2, 18218.4, 19237.6]}}
    }
   },
   {
    "data": {"values": [{}]},
    "mark": {"type": "rule", "color": "#FF4500", "strokeWidth": 1},
    "encoding": {"y": {"datum": 12885.5, "type": "quantitative"}}
   },
   {
    "data": {"values": [{}]},
    "mark": {"type": "rule", "color": "#C0C0C0", "strokeWidth": 1},
    "encoding": {"y": {"datum": 12765.5, "type": "quantitative"}}
   },
   {
    "data": {"name": "candles"},
    "mark": {"type": "rule", "strokeWidth": 1},
    "encoding": {
     "x": {"field": "i", "type": "quantitative"},
     "y": {"field": "l", "type": "quantitative"},
     "y2": {"field": "h"},
     "color": {"condition": {"test": "datum.c >= datum.o", "value": "#32CD32"}, "value": "#FF0000"}
    }
   },
   {
    "data": {"name": "candles"},
    "mark": {"type": "bar", "size": 2, "strokeWidth": 1},
    "encoding": {
     "x": {"field": "i", "type": "quantitative"},
     "y": {"field": "o", "type": "quantitative"},
     "y2": {"field": "c"},
     "color": {"condition": {"test": "datum.c >= datum.o", "value": "#32CD32"}, "value": "#FF0000"},
     "stroke": {"condition": {"test": "datum.c >= datum.o", "value": "#32CD32"}, "value": "#FF0000"}
    }
   },
   {
    "data": {"name": "maSlow"},
    "mark": {"type": "line", "color": "#000080", "strokeWidth": 3},
    "encoding": {"x": {"field": "i", "type": "quantitative"}, "y": {"field": "p", "type": "quantitative"}}
   },
   {
    "data": {"name": "maFast"},
    "mark": {"type": "line", "color": "#FF0000", "strokeWidth": 2},
    "encoding": {"x": {"field": "i", "type": "quantitative"}, "y": {"field": "p", "type": "quantitative"}}
   },
   {
    "data": {"name": "trend"},
    "transform": [{"filter": "datum.g == 'h'"}],
    "mark": {"type": "rule", "color": "#000080", "strokeWidth": 3},
    "encoding": {"x": {"field": "a", "type": "quantitative"}, "x2": {"field": "b"}, "y": {"field": "p", "type": "quantitative"}, "y2": {"field": "q"}}
   },
   {
    "data": {"name": "trend"},
    "transform": [{"filter": "datum.g == 'v'"}],
    "mark": {"type": "rule", "color": "#000080", "strokeWidth": 1.5, "strokeDash": [9, 5]},
    "encoding": {"x": {"field": "a", "type": "quantitative"}, "x2": {"field": "b"}, "y": {"field": "p", "type": "quantitative"}, "y2": {"field": "q"}}
   },
   {
    "data": {"name": "trend"},
    "transform": [{"filter": "datum.g == 't'"}],
    "mark": {"type": "rule", "color": "#000080", "strokeWidth": 1},
    "encoding": {"x": {"field": "a", "type": "quantitative"}, "x2": {"field": "b"}, "y": {"field": "p", "type": "quantitative"}, "y2": {"field": "q"}}
   },
   {
    "data": {"name": "levels"},
    "mark": {"type": "tick", "orient": "horizontal", "size": 62, "thickness": 14, "color": "#FF0000", "opacity": 1},
    "encoding": {"x": {"datum": 540.5, "type": "quantitative"}, "y": {"field": "p", "type": "quantitative"}}
   },
   {
    "data": {"name": "levels"},
    "mark": {"type": "text", "align": "left", "baseline": "middle", "color": "#FFFFFF", "fontSize": 11, "font": "DejaVu Sans"},
    "encoding": {"x": {"datum": 533.5, "type": "quantitative"}, "y": {"field": "p", "type": "quantitative"}, "text": {"field": "t"}}
   },
   {
    "data": {"values": [{}]},
    "mark": {"type": "tick", "orient": "horizontal", "size": 62, "thickness": 14, "color": "#FF4500", "opacity": 1},
    "encoding": {"x": {"datum": 540.5, "type": "quantitative"}, "y": {"datum": 12885.5, "type": "quantitative"}}
   },
   {
    "data": {"values": [{}]},
    "mark": {"type": "text", "align": "left", "baseline": "middle", "color": "#FFFFFF", "fontSize": 11, "font": "DejaVu Sans", "text": "12885.50"},
    "encoding": {"x": {"datum": 533.5, "type": "quantitative"}, "y": {"datum": 12885.5, "type": "quantitative"}}
   },
   {
    "data": {"values": [{}]},
    "mark": {"type": "tick", "orient": "horizontal", "size": 62, "thickness": 14, "color": "#000000", "opacity": 1},
    "encoding": {"x": {"datum": 540.5, "type": "quantitative"}, "y": {"datum": 12765.5, "type": "quantitative"}}
   },
   {
    "data": {"values": [{}]},
    "mark": {"type": "text", "align": "left", "baseline": "middle", "color": "#FFFFFF", "fontSize": 11, "font": "DejaVu Sans", "text": "12765.50"},
    "encoding": {"x": {"datum": 533.5, "type": "quantitative"}, "y": {"datum": 12765.5, "type": "quantitative"}}
   },
   {
    "data": {"name": "info"},
    "mark": {"type": "text", "align": "right", "baseline": "middle", "color": "#FFFFFF", "fontSize": 16, "font": "Liberation Sans"},
    "encoding": {"x": {"field": "i", "type": "quantitative"}, "y": {"field": "p", "type": "quantitative"}, "text": {"field": "t"}}
   },
   {
    "data": {"values": [{}]},
    "mark": {"type": "text", "align": "right", "baseline": "middle", "color": "#FFFF00", "fontSize": 20, "font": "Liberation Sans", "text": "Bid: 0.8630"},
    "encoding": {"x": {"datum": 527, "type": "quantitative"}, "y": {"datum": 19370, "type": "quantitative"}}
   },
   {
    "data": {"values": [{}]},
    "mark": {"type": "text", "align": "left", "baseline": "middle", "color": "#000000", "fontSize": 11, "font": "DejaVu Sans", "text": "BTC,H4  13654.50 14136.45 11920.50 12765.50"},
    "encoding": {"x": {"datum": 1.75, "type": "quantitative"}, "y": {"datum": 20043, "type": "quantitative"}}
   }
  ]
 },
 {
  "width": 2130,
  "height": 122,
  "layer": [
   {
    "data": {"name": "seps"},
    "mark": {"type": "rule", "color": "#000000", "strokeDash": [3, 2], "strokeWidth": 1},
    "encoding": {
     "x": {"field": "i", "type": "quantitative", "scale": {"domain": [-0.5, 532], "nice": false, "zero": false},
       "axis": {"orient": "bottom", "title": null, "ticks": false, "domain": false, "grid": true, "labelAlign": "left", "labelBaseline": "top", "labelPadding": 5, "labelFlush": false, "labelOverlap": false, "labelBound": false,
         "values": [-0.5,11.5,23.5,35.5,47.5,59.5,71.5,83.5,95.5,107.5,119.5,131.5,143.5,155.5,167.5,179.5,191.5,203.5,215.5,227.5,239.5,251.5,263.5,275.5,287.5,299.5,311.5,323.5,335.5,347.5,359.5,371.5,383.5,395.5,407.5,419.5,431.5,443.5,455.5,467.5,479.5,491.5,503.5,515.5,527.5],
         "labelExpr": "(round((datum.value+0.5)/12) % 2 == 0 && round((datum.value+0.5)/24) < 18) ? ['14 Sep 2017','20 Sep 16:00','26 Sep 16:00','2 Oct 16:00','6 Oct 16:00','12 Oct 16:00','18 Oct 16:00','24 Oct 16:00','30 Oct 16:00','3 Nov 16:00','9 Nov 16:00','15 Nov 16:00','21 Nov 16:00','27 Nov 16:00','1 Dec 16:00','7 Dec 16:00','13 Dec 16:00','19 Dec 16:00'][round((datum.value+0.5)/24)] : ''"}}
    }
   },
   {
    "data": {"name": "stochK"},
    "mark": {"type": "line", "color": "#20B2AA", "strokeWidth": 1},
    "encoding": {
     "x": {"field": "i", "type": "quantitative"},
     "y": {"field": "v", "type": "quantitative", "scale": {"domain": [0, 100], "nice": false, "zero": false},
       "axis": {"orient": "right", "title": null, "grid": true, "ticks": true, "tickSize": 4, "labelPadding": 2, "labelFlush": true, "values": [0, 20, 80, 100]}}
    }
   },
   {
    "data": {"name": "stochD"},
    "mark": {"type": "line", "color": "#FF0000", "strokeWidth": 1, "strokeDash": [2, 2]},
    "encoding": {"x": {"field": "i", "type": "quantitative"}, "y": {"field": "v", "type": "quantitative"}}
   },
   {
    "data": {"values": [{}]},
    "mark": {"type": "text", "align": "left", "baseline": "middle", "color": "#000000", "fontSize": 11, "font": "DejaVu Sans", "text": "Stoch(14,5,3) 11.3751 15.6987"},
    "encoding": {"x": {"datum": 0.5, "type": "quantitative"}, "y": {"datum": 91, "type": "quantitative"}}
   }
  ]
 }
]
}
